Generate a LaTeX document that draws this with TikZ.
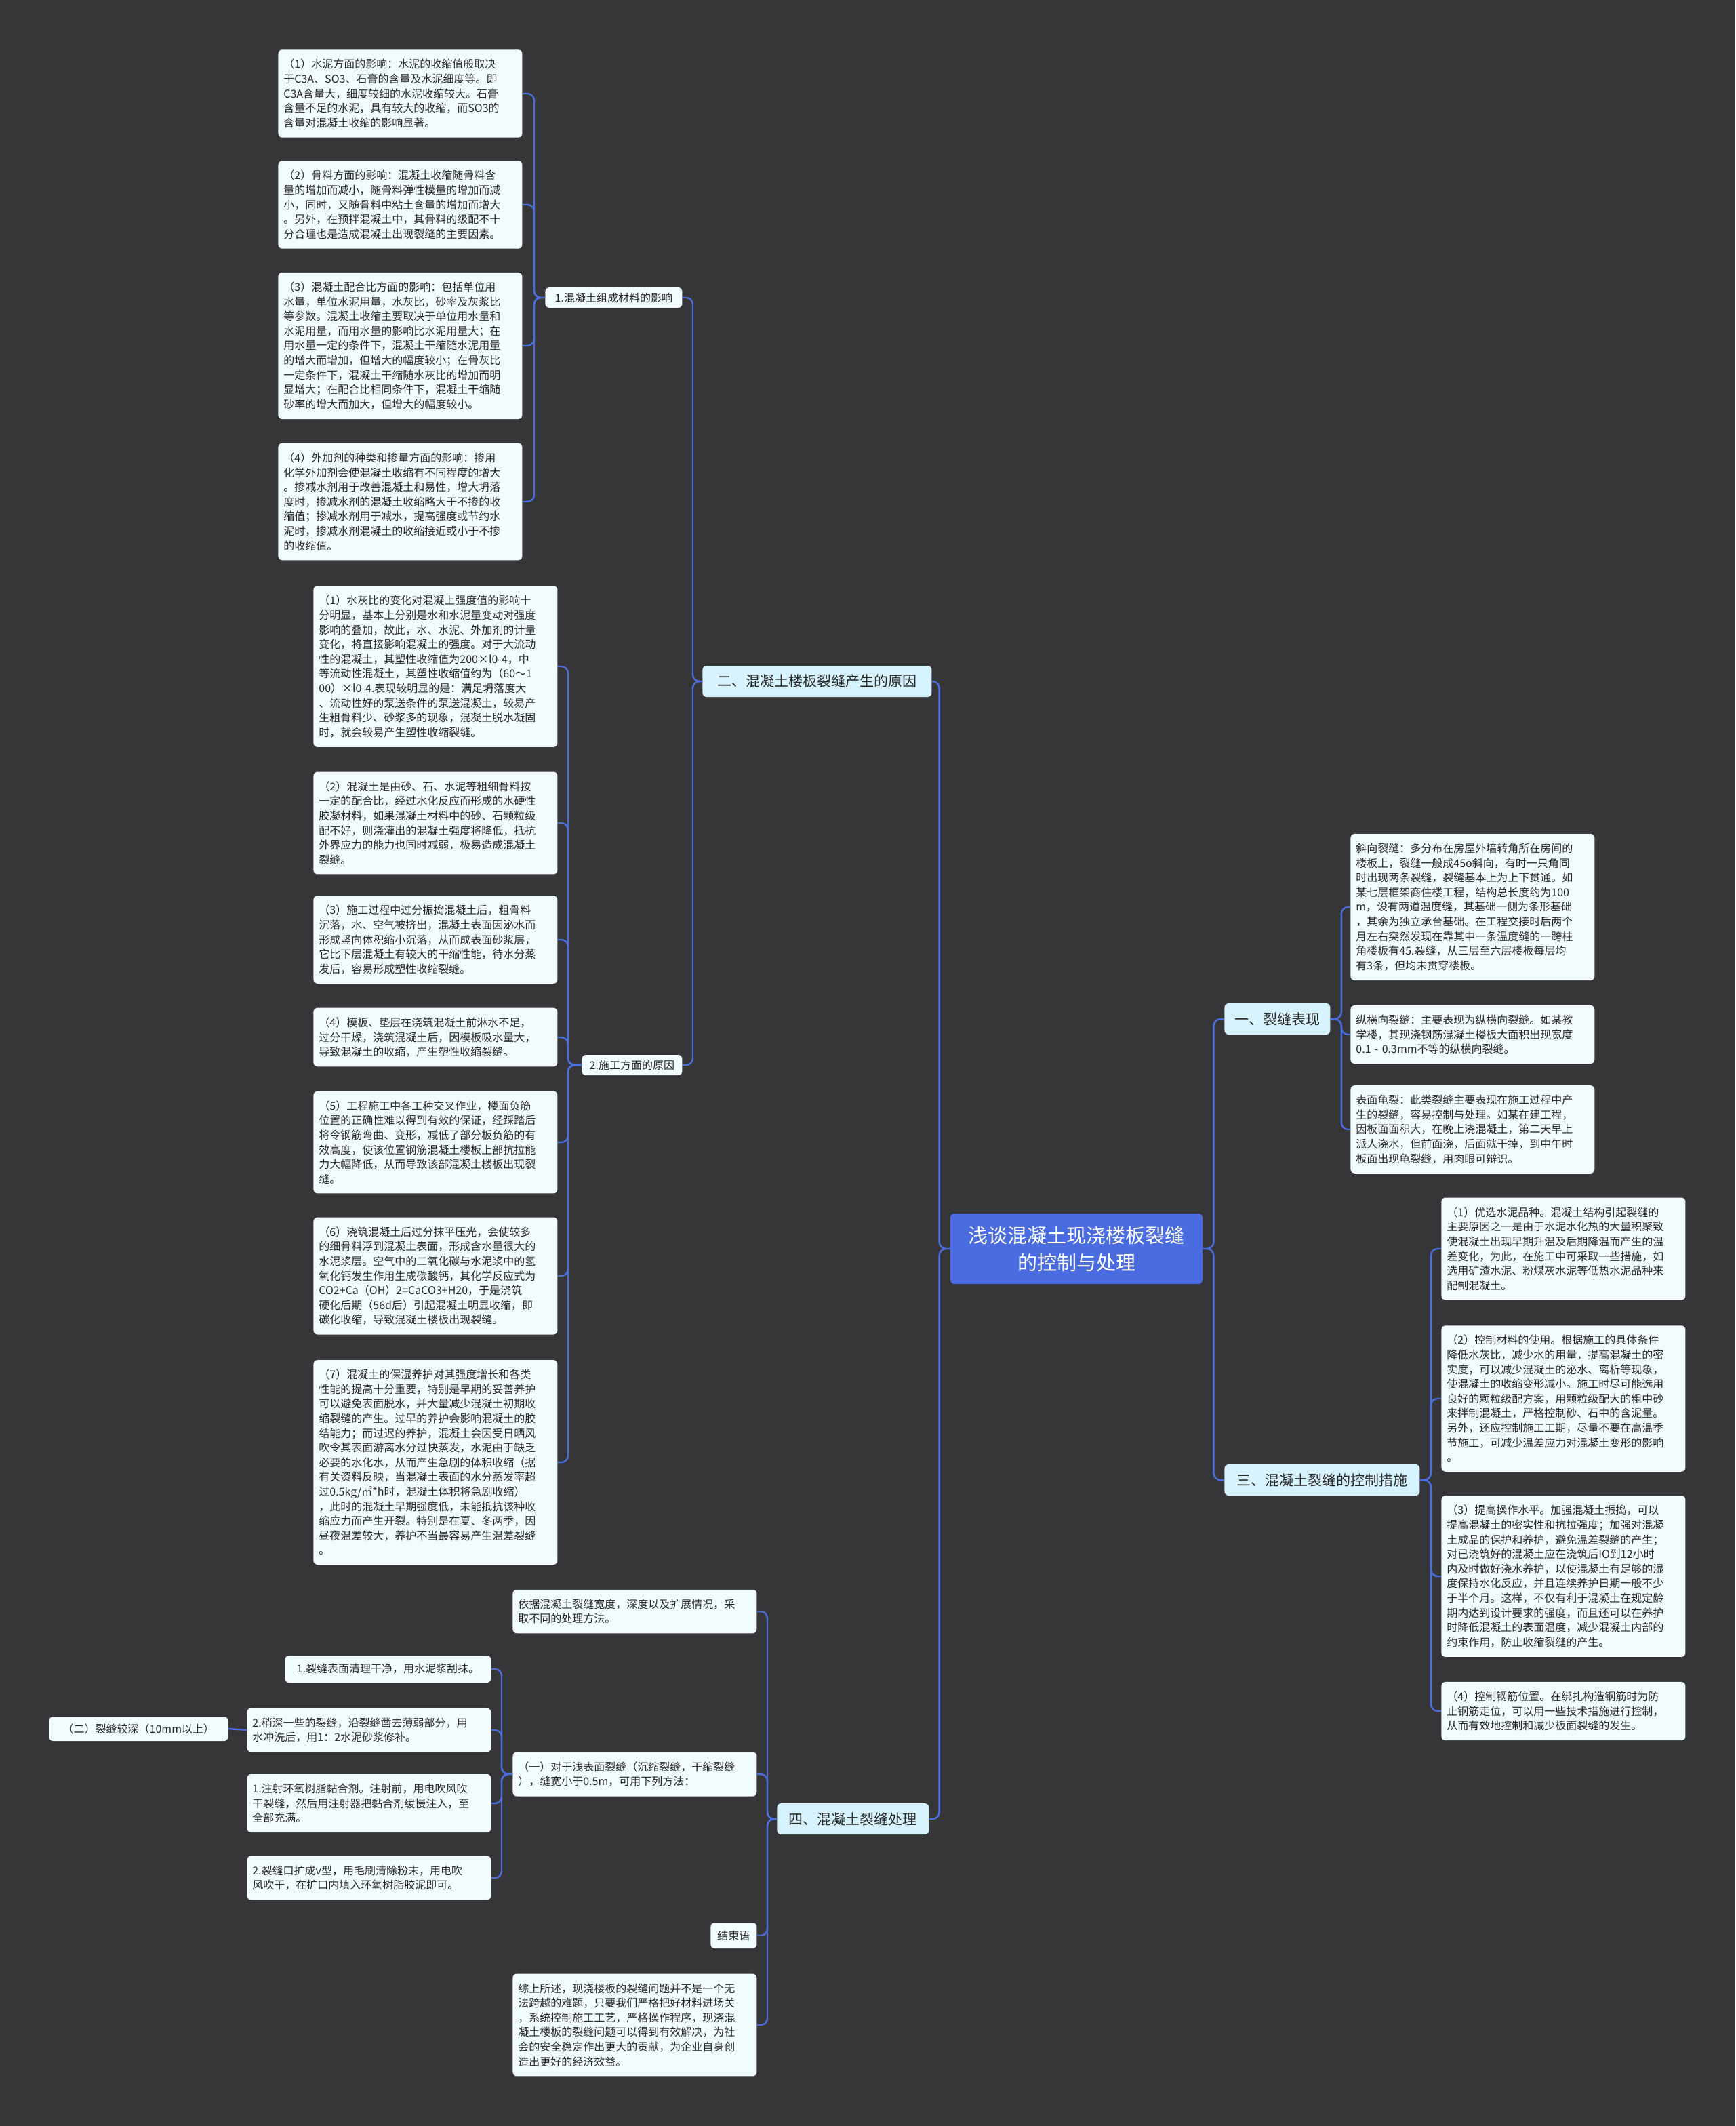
\documentclass[tikz,border=0pt]{standalone}
\usepackage{fontspec}
\newfontfamily\cjk{Noto Sans CJK SC}
\definecolor{bg}{RGB}{54,53,56}
\definecolor{linec}{RGB}{75,110,222}
\definecolor{rootc}{RGB}{74,108,224}
\definecolor{lonefill}{RGB}{214,242,252}
\definecolor{leaffill}{RGB}{242,251,253}
\definecolor{txt}{RGB}{40,40,40}
\begin{document}
\begin{tikzpicture}[x=1pt,y=-1pt,
 conn/.style={draw=linec,line width=1.2pt,rounded corners=5pt},
 leaf/.style={fill=leaffill,rounded corners=3pt,text=txt,font=\cjk\fontsize{8}{10.8}\selectfont,align=left,text width=172pt,inner xsep=4pt,inner ysep=7pt,anchor=west},
 small/.style={fill=leaffill,rounded corners=3pt,text=txt,font=\cjk\fontsize{8}{10.8}\selectfont,align=center,inner xsep=4pt,inner ysep=2pt,anchor=west},
 lone/.style={fill=lonefill,rounded corners=3pt,text=txt,font=\cjk\fontsize{10.5}{13}\selectfont,align=center,inner xsep=4pt,inner ysep=2pt,minimum height=23pt,anchor=west},
 rootbox/.style={fill=rootc,rounded corners=3pt,text=white,font=\cjk\fontsize{14.5}{20}\selectfont,align=center,minimum width=186pt,minimum height=52pt}
]
\fill[bg] (0,0) rectangle (1280,1568);
\useasboundingbox (0,0) rectangle (1280,1568);

% root
\node[rootbox] (root) at (794,921) {浅谈混凝土现浇楼板裂缝\\的控制与处理};

% level 1
\node[lone,minimum width=169pt] (two) at (518,502.5) {二、混凝土楼板裂缝产生的原因};
\node[lone,minimum width=112pt] (four) at (573,1341.5) {四、混凝土裂缝处理};
\node[lone,minimum width=78pt] (one) at (903,751.5) {一、裂缝表现};
\node[lone,minimum width=144pt] (three) at (903,1091.5) {三、混凝土裂缝的控制措施};

% level 2 under two
\node[small,minimum width=101pt,minimum height=15pt] (nA) at (402,219.5) {1.混凝土组成材料的影响};
\node[small,minimum width=74pt,minimum height=15pt] (nB) at (429,785.5) {2.施工方面的原因};

% A boxes
\node[leaf] (a1) at (205,69) {（1）水泥方面的影响：水泥的收缩值般取决\\于C3A、SO3、石膏的含量及水泥细度等。即\\C3A含量大，细度较细的水泥收缩较大。石膏\\含量不足的水泥，具有较大的收缩，而SO3的\\含量对混凝土收缩的影响显著。};
\node[leaf] (a2) at (205,151) {（2）骨料方面的影响：混凝土收缩随骨料含\\量的增加而减小，随骨料弹性模量的增加而减\\小，同时，又随骨料中粘土含量的增加而增大\\。另外，在预拌混凝土中，其骨料的级配不十\\分合理也是造成混凝土出现裂缝的主要因素。};
\node[leaf] (a3) at (205,255) {（3）混凝土配合比方面的影响：包括单位用\\水量，单位水泥用量，水灰比，砂率及灰浆比\\等参数。混凝土收缩主要取决于单位用水量和\\水泥用量，而用水量的影响比水泥用量大；在\\用水量一定的条件下，混凝土干缩随水泥用量\\的增大而增加，但增大的幅度较小；在骨灰比\\一定条件下，混凝土干缩随水灰比的增加而明\\显增大；在配合比相同条件下，混凝土干缩随\\砂率的增大而加大，但增大的幅度较小。};
\node[leaf] (a4) at (205,370) {（4）外加剂的种类和掺量方面的影响：掺用\\化学外加剂会使混凝土收缩有不同程度的增大\\。掺减水剂用于改善混凝土和易性，增大坍落\\度时，掺减水剂的混凝土收缩略大于不掺的收\\缩值；掺减水剂用于减水，提高强度或节约水\\泥时，掺减水剂混凝土的收缩接近或小于不掺\\的收缩值。};

% B boxes
\node[leaf] (b1) at (231,491.5) {（1）水灰比的变化对混凝上强度值的影响十\\分明显，基本上分别是水和水泥量变动对强度\\影响的叠加，故此，水、水泥、外加剂的计量\\变化，将直接影响混凝土的强度。对于大流动\\性的混凝土，其塑性收缩值为200×l0-4，中\\等流动性混凝土，其塑性收缩值约为（60～1\\00）×l0-4.表现较明显的是：满足坍落度大\\、流动性好的泵送条件的泵送混凝土，较易产\\生粗骨料少、砂浆多的现象，混凝土脱水凝固\\时，就会较易产生塑性收缩裂缝。};
\node[leaf] (b2) at (231,607) {（2）混凝土是由砂、石、水泥等粗细骨料按\\一定的配合比，经过水化反应而形成的水硬性\\胶凝材料，如果混凝土材料中的砂、石颗粒级\\配不好，则浇灌出的混凝土强度将降低，抵抗\\外界应力的能力也同时减弱，极易造成混凝土\\裂缝。};
\node[leaf] (b3) at (231,693) {（3）施工过程中过分振捣混凝土后，粗骨料\\沉落，水、空气被挤出，混凝土表面因泌水而\\形成竖向体积缩小沉落，从而成表面砂浆层，\\它比下层混凝土有较大的干缩性能，待水分蒸\\发后，容易形成塑性收缩裂缝。};
\node[leaf] (b4) at (231,765) {（4）模板、垫层在浇筑混凝土前淋水不足，\\过分干燥，浇筑混凝土后，因模板吸水量大，\\导致混凝土的收缩，产生塑性收缩裂缝。};
\node[leaf] (b5) at (231,842.5) {（5）工程施工中各工种交叉作业，楼面负筋\\位置的正确性难以得到有效的保证，经踩踏后\\将令钢筋弯曲、变形，减低了部分板负筋的有\\效高度，使该位置钢筋混凝土楼板上部抗拉能\\力大幅降低，从而导致该部混凝土楼板出现裂\\缝。};
\node[leaf] (b6) at (231,941) {（6）浇筑混凝土后过分抹平压光，会使较多\\的细骨料浮到混凝土表面，形成含水量很大的\\水泥浆层。空气中的二氧化碳与水泥浆中的氢\\氧化钙发生作用生成碳酸钙，其化学反应式为\\CO2+Ca（OH）2=CaCO3+H20，于是浇筑\\硬化后期（56d后）引起混凝土明显收缩，即\\碳化收缩，导致混凝土楼板出现裂缝。};
\node[leaf] (b7) at (231,1078.5) {（7）混凝土的保湿养护对其强度增长和各类\\性能的提高十分重要，特别是早期的妥善养护\\可以避免表面脱水，并大量减少混凝土初期收\\缩裂缝的产生。过早的养护会影响混凝土的胶\\结能力；而过迟的养护，混凝土会因受日晒风\\吹令其表面游离水分过快蒸发，水泥由于缺乏\\必要的水化水，从而产生急剧的体积收缩（据\\有关资料反映，当混凝土表面的水分蒸发率超\\过0.5kg/㎡*h时，混凝土体积将急剧收缩）\\，此时的混凝土早期强度低，未能抵抗该种收\\缩应力而产生开裂。特别是在夏、冬两季，因\\昼夜温差较大，养护不当最容易产生温差裂缝\\。};

% C boxes
\node[leaf] (c1) at (996,669) {斜向裂缝：多分布在房屋外墙转角所在房间的\\楼板上，裂缝一般成45o斜向，有时一只角同\\时出现两条裂缝，裂缝基本上为上下贯通。如\\某七层框架商住楼工程，结构总长度约为100\\m，设有两道温度缝，其基础一侧为条形基础\\，其余为独立承台基础。在工程交接时后两个\\月左右突然发现在靠其中一条温度缝的一跨柱\\角楼板有45.裂缝，从三层至六层楼板每层均\\有3条，但均未贯穿楼板。};
\node[leaf] (c2) at (996,763) {纵横向裂缝：主要表现为纵横向裂缝。如某教\\学楼，其现浇钢筋混凝土楼板大面积出现宽度\\0.1 - 0.3mm不等的纵横向裂缝。};
\node[leaf] (c3) at (996,833) {表面龟裂：此类裂缝主要表现在施工过程中产\\生的裂缝，容易控制与处理。如某在建工程，\\因板面面积大，在晚上浇混凝土，第二天早上\\派人浇水，但前面浇，后面就干掉，到中午时\\板面出现龟裂缝，用肉眼可辩识。};

% D boxes
\node[leaf] (d1) at (1063,921) {（1）优选水泥品种。混凝土结构引起裂缝的\\主要原因之一是由于水泥水化热的大量积聚致\\使混凝土出现早期升温及后期降温而产生的温\\差变化，为此，在施工中可采取一些措施，如\\选用矿渣水泥、粉煤灰水泥等低热水泥品种来\\配制混凝土。};
\node[leaf] (d2) at (1063,1031.5) {（2）控制材料的使用。根据施工的具体条件\\降低水灰比，减少水的用量，提高混凝土的密\\实度，可以减少混凝土的泌水、离析等现象，\\使混凝土的收缩变形减小。施工时尽可能选用\\良好的颗粒级配方案，用颗粒级配大的粗中砂\\来拌制混凝土，严格控制砂、石中的含泥量。\\另外，还应控制施工工期，尽量不要在高温季\\节施工，可减少温差应力对混凝土变形的影响\\。};
\node[leaf] (d3) at (1063,1162.5) {（3）提高操作水平。加强混凝土振捣，可以\\提高混凝土的密实性和抗拉强度；加强对混凝\\土成品的保护和养护，避免温差裂缝的产生；\\对已浇筑好的混凝土应在浇筑后IO到12小时\\内及时做好浇水养护，以使混凝土有足够的湿\\度保持水化反应，并且连续养护日期一般不少\\于半个月。这样，不仅有利于混凝土在规定龄\\期内达到设计要求的强度，而且还可以在养护\\时降低混凝土的表面温度，减少混凝土内部的\\约束作用，防止收缩裂缝的产生。};
\node[leaf] (d4) at (1063,1262) {（4）控制钢筋位置。在绑扎构造钢筋时为防\\止钢筋走位，可以用一些技术措施进行控制，\\从而有效地控制和减少板面裂缝的发生。};

% E boxes
\node[leaf] (e1) at (378,1188.5) {依据混凝土裂缝宽度，深度以及扩展情况，采\\取不同的处理方法。};
\node[leaf] (e2) at (378,1308.5) {（一）对于浅表面裂缝（沉缩裂缝，干缩裂缝\\），缝宽小于0.5m，可用下列方法：};
\node[small,minimum width=34pt,minimum height=19pt] (e3) at (524,1427.5) {结束语};
\node[leaf] (e4) at (378,1493.5) {综上所述，现浇楼板的裂缝问题并不是一个无\\法跨越的难题，只要我们严格把好材料进场关\\，系统控制施工工艺，严格操作程序，现浇混\\凝土楼板的裂缝问题可以得到有效解决，为社\\会的安全稳定作出更大的贡献，为企业自身创\\造出更好的经济效益。};

% F boxes
\node[small,minimum width=152pt,minimum height=20pt] (f1) at (210,1231) {1.裂缝表面清理干净，用水泥浆刮抹。};
\node[leaf] (f2) at (182,1276) {2.稍深一些的裂缝，沿裂缝凿去薄弱部分，用\\水冲洗后，用1：2水泥砂浆修补。};
\node[leaf] (f3) at (182,1330) {1.注射环氧树脂黏合剂。注射前，用电吹风吹\\干裂缝，然后用注射器把黏合剂缓慢注入，至\\全部充满。};
\node[leaf] (f4) at (182,1385) {2.裂缝口扩成v型，用毛刷清除粉末，用电吹\\风吹干，在扩口内填入环氧树脂胶泥即可。};
\node[small,minimum width=132pt,minimum height=18pt] (g) at (36,1275) {（二）裂缝较深（10mm以上）};

% connectors
\foreach \c in {two,four} \draw[conn] (root.west) -- ++(-8,0) |- (\c.east);
\foreach \c in {one,three} \draw[conn] (root.east) -- ++(8,0) |- (\c.west);
\foreach \c in {nA,nB} \draw[conn] (two.west) -- ++(-7,0) |- (\c.east);
\foreach \c in {a1,a2,a3,a4} \draw[conn] (nA.west) -- ++(-8,0) |- (\c.east);
\foreach \c in {b1,b2,b3,b4,b5,b6,b7} \draw[conn] (nB.west) -- ++(-10,0) |- (\c.east);
\foreach \c in {c1,c2,c3} \draw[conn] (one.east) -- ++(8,0) |- (\c.west);
\foreach \c in {d1,d2,d3,d4} \draw[conn] (three.east) -- ++(8,0) |- (\c.west);
\foreach \c in {e1,e2,e3,e4} \draw[conn] (four.west) -- ++(-7,0) |- (\c.east);
\foreach \c in {f1,f2,f3,f4} \draw[conn] (e2.west) -- ++(-8,0) |- (\c.east);
\draw[conn] (f2.west) -- (g.east);
\end{tikzpicture}
\end{document}
